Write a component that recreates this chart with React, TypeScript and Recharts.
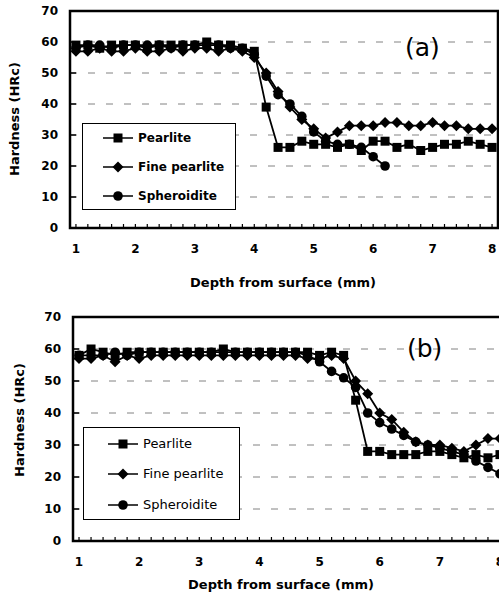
import React from 'react';
import { LineChart, Line, XAxis, YAxis, CartesianGrid, ReferenceArea, Legend } from 'recharts';

const FONT = '"DejaVu Sans", Verdana, sans-serif';

// depth below the surface (mm), one reading every 0.2 mm
const depth = [
  1, 1.2, 1.4, 1.6, 1.8, 2, 2.2, 2.4, 2.6, 2.8, 3, 3.2, 3.4, 3.6, 3.8, 4, 4.2, 4.4,
  4.6, 4.8, 5, 5.2, 5.4, 5.6, 5.8, 6, 6.2, 6.4, 6.6, 6.8, 7, 7.2, 7.4, 7.6, 7.8, 8,
];
const hardnessTicks = [0, 10, 20, 30, 40, 50, 60, 70];

// ── (a) ──
const pearliteA = [
  59, 59, 58, 59, 59, 59, 58, 59, 59, 59, 59, 60, 59, 59, 58, 57, 39, 26,
  26, 28, 27, 27, 26, 27, 25, 28, 28, 26, 27, 25, 26, 27, 27, 28, 27, 26,
];
const finePearliteA = [
  57, 57, 58, 57, 57, 58, 57, 57, 58, 57, 58, 58, 57, 58, 57, 55, 50, 44,
  39, 35, 32, 29, 31, 33, 33, 33, 34, 34, 33, 33, 34, 33, 33, 32, 32, 32,
];
const spheroiditeA = [
  58, 59, 59, 58, 59, 59, 59, 59, 58, 59, 59, 59, 59, 58, 58, 56, 49, 43,
  40, 36, 31, 28, 27, 27, 26, 23, 20, null, null, null, null, null, null, null, null, null,
];

// ── (b) ──
const pearliteB = [
  58, 60, 59, 58, 59, 59, 59, 59, 59, 59, 59, 59, 60, 59, 59, 59, 59, 59,
  59, 59, 58, 59, 58, 44, 28, 28, 27, 27, 27, 28, 28, 27, 26, 27, 26, 27,
];
const finePearliteB = [
  57, 57, 58, 56, 58, 57, 58, 58, 58, 58, 58, 58, 58, 58, 58, 58, 58, 58,
  58, 57, 57, 58, 57, 50, 46, 40, 38, 34, 31, 30, 30, 29, 28, 30, 32, 32,
];
const spheroiditeB = [
  58, 58, 58, 59, 58, 59, 59, 59, 59, 59, 59, 59, 59, 59, 59, 59, 59, 59,
  59, 58, 56, 53, 51, 48, 40, 37, 35, 33, 31, 30, 29, 28, 27, 25, 23, 21,
];

type Row = { depth: number; pearlite: number | null; fine: number | null; spheroidite: number | null };

function buildRows(p: (number | null)[], f: (number | null)[], s: (number | null)[]): Row[] {
  return depth.map((d, i) => ({ depth: d, pearlite: p[i], fine: f[i], spheroidite: s[i] }));
}

const rowsA = buildRows(pearliteA, finePearliteA, spheroiditeA);
const rowsB = buildRows(pearliteB, finePearliteB, spheroiditeB);

// ── markers ──

function Marker({ kind, cx, cy }: { kind: string; cx: number; cy: number }) {
  if (kind === 'pearlite') return <rect x={cx - 4.5} y={cy - 4.5} width={9} height={9} fill="#000" />;
  if (kind === 'fine')
    return <path d={`M${cx},${cy - 5.5}L${cx + 5.5},${cy}L${cx},${cy + 5.5}L${cx - 5.5},${cy}Z`} fill="#000" />;
  return <circle cx={cx} cy={cy} r={4.8} fill="#000" />;
}

function SeriesDot(props: any) {
  const { cx, cy, kind } = props;
  if (cx == null || cy == null || Number.isNaN(cy)) return null;
  return <Marker kind={kind} cx={cx} cy={cy} />;
}

// ── axes ──

function XTick(props: any) {
  const { x, y, payload } = props;
  const v = Number(payload.value);
  const major = Math.abs(v - Math.round(v)) < 1e-6;
  return (
    <g>
      <line x1={x} x2={x} y1={y} y2={y - 4} stroke="#000" strokeWidth={1.2} />
      {major && (
        <text x={x} y={y + 25} textAnchor="middle" fontSize={12} fontWeight="bold" fontFamily={FONT} fill="#000">
          {Math.round(v)}
        </text>
      )}
    </g>
  );
}

function YTick(props: any) {
  const { x, y, payload } = props;
  return (
    <g>
      <line x1={x} x2={x + 6} y1={y} y2={y} stroke="#000" strokeWidth={1.5} />
      <text x={x - 12} y={y + 4.4} textAnchor="end" fontSize={12} fontWeight="bold" fontFamily={FONT} fill="#000">
        {payload.value}
      </text>
    </g>
  );
}

// titles take their place in the chart svg from ax / ay
function HTitle({ ax, ay, text }: { ax: number; ay: number; text: string }) {
  return (
    <text x={ax} y={ay} textAnchor="middle" dominantBaseline="central" fontSize={13} fontWeight="bold" fontFamily={FONT} fill="#000">
      {text}
    </text>
  );
}

function VTitle({ ax, ay, text }: { ax: number; ay: number; text: string }) {
  return (
    <text
      x={ax}
      y={ay}
      transform={`rotate(-90, ${ax}, ${ay})`}
      textAnchor="middle"
      dominantBaseline="central"
      fontSize={13}
      fontWeight="bold"
      fontFamily={FONT}
      fill="#000"
    >
      {text}
    </text>
  );
}

// ── legend ──

const seriesOrder = ['pearlite', 'fine', 'spheroidite'];

function LegendBox(props: any) {
  const { payload = [], rows, lineX, textX, fontSize, fontWeight } = props;
  const items = seriesOrder
    .map((k) => payload.find((p: any) => p.dataKey === k))
    .filter(Boolean);
  return (
    <div
      style={{
        position: 'relative',
        width: '100%',
        height: '100%',
        boxSizing: 'border-box',
        border: '1.5px solid #000',
        background: '#fff',
      }}
    >
      {items.map((item: any, i: number) => (
        <div
          key={item.dataKey}
          style={{ position: 'absolute', left: lineX, top: rows[i] - 8, height: 16, display: 'flex', alignItems: 'center' }}
        >
          <svg width={30} height={16} style={{ display: 'block' }}>
            <line x1={0} x2={30} y1={8} y2={8} stroke="#000" strokeWidth={1.5} />
            <Marker kind={item.dataKey} cx={15} cy={8} />
          </svg>
          <span
            style={{
              marginLeft: textX - lineX - 30,
              fontFamily: FONT,
              fontSize,
              fontWeight,
              color: '#000',
              whiteSpace: 'nowrap',
              lineHeight: '16px',
            }}
          >
            {item.value}
          </span>
        </div>
      ))}
    </div>
  );
}

// ── one hardness panel ──

type PanelProps = {
  rows: Row[];
  width: number;
  height: number;
  top: number;
  yAxisWidth: number;
  xAxisHeight: number;
  xTitle: { x: number; y: number };
  yTitle: { x: number; y: number };
  legend: { left: number; top: number; width: number; height: number; rows: number[]; lineX: number; textX: number; fontSize: number; fontWeight: string };
};

function HardnessPanel({ rows, width, height, top, yAxisWidth, xAxisHeight, xTitle, yTitle, legend }: PanelProps) {
  return (
    <LineChart width={width} height={height} data={rows} margin={{ top, right: 1, bottom: 0, left: 0 }}>
      <CartesianGrid vertical={false} stroke="#444" strokeOpacity={0.75} strokeDasharray="7 11" strokeWidth={0.9} />
      <XAxis
        dataKey="depth"
        type="number"
        domain={[0.9, 8.1]}
        ticks={depth}
        interval={0}
        allowDataOverflow
        height={xAxisHeight}
        axisLine={false}
        tickLine={false}
        tickSize={0}
        tickMargin={0}
        tick={<XTick />}
        label={<HTitle ax={xTitle.x} ay={xTitle.y} text="Depth from surface (mm)" />}
      />
      <YAxis
        type="number"
        domain={[0, 70]}
        ticks={hardnessTicks}
        interval={0}
        width={yAxisWidth}
        axisLine={false}
        tickLine={false}
        tickSize={0}
        tickMargin={0}
        tick={<YTick />}
        label={<VTitle ax={yTitle.x} ay={yTitle.y} text="Hardness (HRc)" />}
      />
      <ReferenceArea x1={0.9} x2={8.1} y1={0} y2={70} fill="none" stroke="#000" strokeWidth={2.5} ifOverflow="visible" />
      <Legend
        layout="vertical"
        align="center"
        verticalAlign="middle"
        wrapperStyle={{ left: legend.left, top: legend.top, width: legend.width, height: legend.height }}
        content={(p: any) => (
          <LegendBox
            payload={p.payload}
            rows={legend.rows}
            lineX={legend.lineX}
            textX={legend.textX}
            fontSize={legend.fontSize}
            fontWeight={legend.fontWeight}
          />
        )}
      />
      <Line
        dataKey="pearlite"
        name="Pearlite"
        stroke="#000"
        strokeWidth={1.8}
        dot={<SeriesDot kind="pearlite" />}
        activeDot={false}
        isAnimationActive={false}
      />
      <Line
        dataKey="fine"
        name="Fine pearlite"
        stroke="#000"
        strokeWidth={1.8}
        dot={<SeriesDot kind="fine" />}
        activeDot={false}
        isAnimationActive={false}
      />
      <Line
        dataKey="spheroidite"
        name="Spheroidite"
        stroke="#000"
        strokeWidth={1.8}
        dot={<SeriesDot kind="spheroidite" />}
        activeDot={false}
        isAnimationActive={false}
      />
    </LineChart>
  );
}

export default function App() {
  return (
    <div
      style={{
        position: 'absolute',
        left: 0,
        top: 0,
        width: 499,
        height: 595,
        overflow: 'hidden',
        background: '#fff',
      }}
    >
      <div style={{ position: 'absolute', left: 0, top: 0 }}>
        <HardnessPanel
          rows={rowsA}
          width={499}
          height={295}
          top={11}
          yAxisWidth={70}
          xAxisHeight={67}
          xTitle={{ x: 283, y: 282 }}
          yTitle={{ x: 14, y: 119 }}
          legend={{ left: 82, top: 123, width: 154, height: 87, rows: [14, 43, 72], lineX: 20, textX: 55, fontSize: 12, fontWeight: 'bold' }}
        />
      </div>
      <div style={{ position: 'absolute', left: 0, top: 300 }}>
        <HardnessPanel
          rows={rowsB}
          width={507}
          height={300}
          top={17}
          yAxisWidth={73}
          xAxisHeight={59}
          xTitle={{ x: 281, y: 284 }}
          yTitle={{ x: 19, y: 120 }}
          legend={{ left: 83, top: 127, width: 157, height: 93, rows: [16, 46, 77], lineX: 24, textX: 59, fontSize: 13, fontWeight: 'normal' }}
        />
      </div>
      <div style={{ position: 'absolute', left: 405, top: 33, fontFamily: FONT, fontSize: 25, lineHeight: '29px', color: '#000' }}>
        (a)
      </div>
      <div style={{ position: 'absolute', left: 407, top: 334, fontFamily: FONT, fontSize: 25, lineHeight: '29px', color: '#000' }}>
        (b)
      </div>
    </div>
  );
}
